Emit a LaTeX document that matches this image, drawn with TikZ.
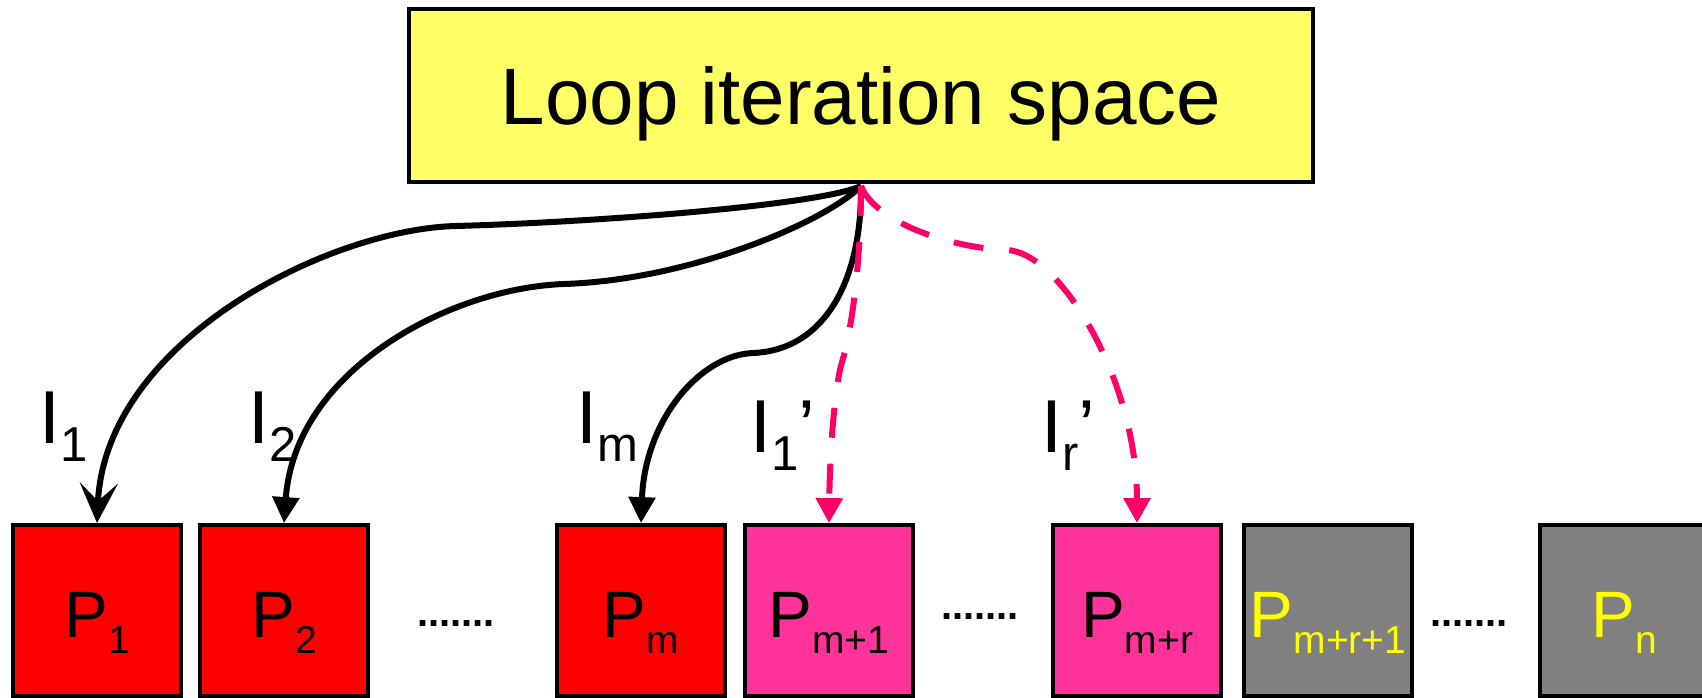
\documentclass[tikz,border=0pt]{standalone}
\usepackage{fontspec}
\setmainfont{Liberation Sans}
\usetikzlibrary{arrows.meta}

\definecolor{loopyellow}{HTML}{FFFF66}
\definecolor{procred}{HTML}{FF0000}
\definecolor{procpink}{HTML}{FF3399}
\definecolor{procgray}{HTML}{808080}
\definecolor{linepink}{HTML}{FF0066}
\definecolor{textyellow}{HTML}{FFFF00}

\newcommand{\psub}[1]{\raisebox{-8pt}{\fontsize{19.5}{20}\selectfont #1}}
\newcommand{\isub}[1]{\raisebox{-9pt}{\fontsize{24.5}{25}\selectfont #1}}

\tikzset{
  pbox/.style={draw=black, line width=1.9pt, fill=#1, minimum width=84pt, minimum height=85.5pt,
    inner sep=0pt, text height=26.5pt, text depth=0pt, font=\fontsize{32.8}{34}\selectfont},
  ilabel/.style={anchor=base west, inner sep=0pt, font=\fontsize{37.5}{38}\selectfont},
  gapdots/.style={inner sep=0pt, font=\fontsize{20}{20}\selectfont\bfseries},
  blk/.style={line width=3pt, draw=black},
  pnk/.style={line width=3pt, draw=linepink, dash pattern=on 15pt off 13pt},
}

\begin{document}
\begin{tikzpicture}[x=0.5pt, y=-0.5pt]
    \useasboundingbox (0,0) rectangle (1702,697);

    % iteration space
    \node[draw, line width=2pt, fill=loopyellow, minimum width=452pt, minimum height=86.5pt,
      inner sep=0pt, text height=29pt, text depth=0pt, font=\fontsize{40}{42}\selectfont]
      (loop) at (861,95.5) {Loop iteration space};
    \coordinate (hub) at ([yshift=-1pt]loop.south);

    % processors
    \node[pbox=procred] (p1) at (97,610.5) {P\psub{1}};
    \node[pbox=procred] (p2) at (284,610.5) {P\psub{2}};
    \node[pbox=procred] (pm) at (641,610.5) {P\psub{m}};
    \node[pbox=procpink] (pa) at (829,610.5) {P\psub{m+1}};
    \node[pbox=procpink] (pr) at (1137,610.5) {P\psub{m+r}};
    \node[pbox=procgray, text=textyellow] (pb) at (1328,610.5) {P\psub{m+r+1}};
    \node[pbox=procgray, text=textyellow] (pn) at (1624,610.5) {P\psub{n}};

    \node[gapdots] (d1) at (456,624) {.......};
    \node[gapdots] (d2) at (980,617) {.......};
    \node[gapdots] (d3) at (1469,624) {.......};

    % chunk labels
    \node[ilabel] (i1) at (39,443) {I\isub{1}};
    \node[ilabel] (i2) at (248,443) {I\isub{2}};
    \node[ilabel] (im) at (576,443) {I\isub{m}};
    \node[ilabel] (ia) at (750,452) {I\isub{1}’};
    \node[ilabel] (ir) at (1041,452) {I\isub{r}’};

    % first round
    \draw[blk, -{Stealth[length=20pt, width=19pt, inset=9pt]}] (hub)
      .. controls (820,205) and (600,222) .. (456,226)
      .. controls (330,229) and (105,340) .. (p1.north);
    \draw[blk, -{Triangle[length=13pt, width=13pt]}] (hub)
      .. controls (825,222) and (690,280) .. (564,284)
      .. controls (450,288) and (295,370) .. (p2.north);
    \draw[blk, -{Triangle[length=13pt, width=13pt]}] (hub)
      .. controls (862,280) and (825,350) .. (753,353)
      .. controls (700,355) and (645,420) .. (pm.north);

    % second round
    \draw[pnk, -{Triangle[length=12.5pt, width=13pt]}] (hub)
      .. controls (861,260) and (852,330) .. (842,362)
      .. controls (836,381) and (830,440) .. (pa.north);
    \draw[pnk, -{Triangle[length=12.5pt, width=13pt]}] (hub)
      .. controls (875,222) and (950,248) .. (1007,250)
      .. controls (1060,252) and (1137,380) .. (pr.north);
\end{tikzpicture}
\end{document}
